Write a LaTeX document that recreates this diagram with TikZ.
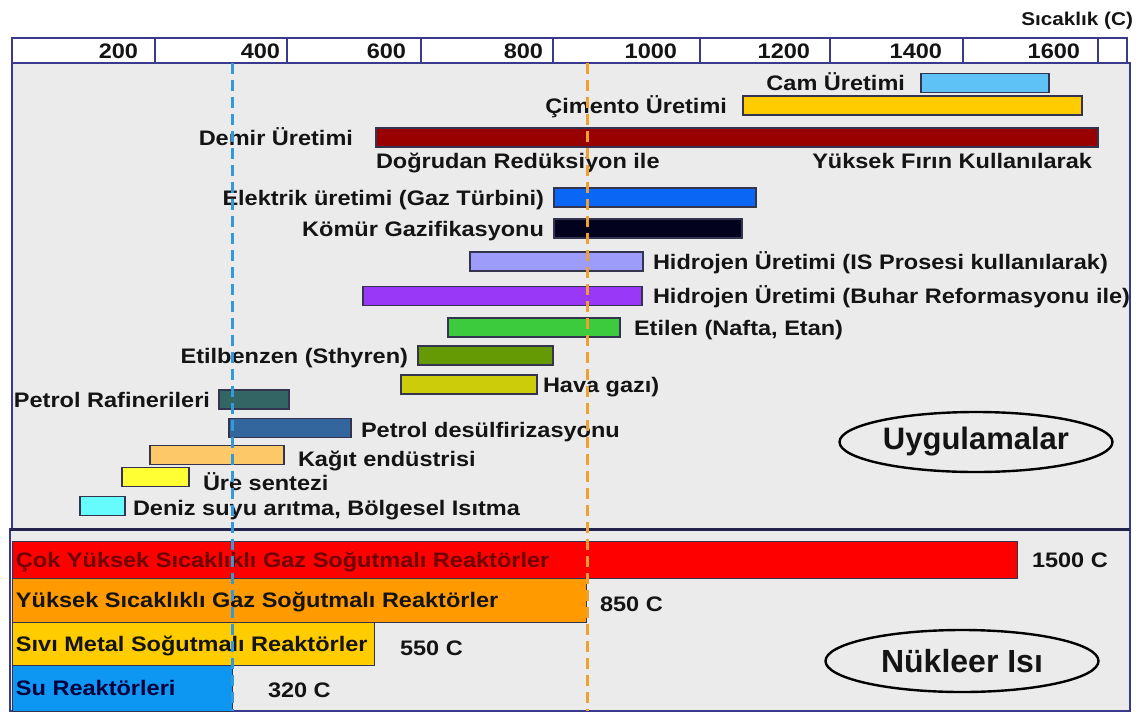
\documentclass[tikz,border=0pt]{standalone}
\usepackage{fontspec}
\setmainfont[FakeStretch=1.12]{Liberation Sans}
\newfontfamily\ovalfont{Liberation Sans}
\usetikzlibrary{positioning,shapes.geometric}
\definecolor{ink}{HTML}{141414}
\definecolor{frame}{HTML}{3A3A8C}
\definecolor{divider}{HTML}{24244C}
\definecolor{panel}{HTML}{EBEBEB}
\definecolor{barline}{HTML}{34344F}
\definecolor{camblue}{HTML}{5EC2F6}
\definecolor{cement}{HTML}{FFCC00}
\definecolor{iron}{HTML}{990000}
\definecolor{turbine}{HTML}{0A66F5}
\definecolor{coal}{HTML}{02021E}
\definecolor{hydrois}{HTML}{9D9CFA}
\definecolor{hydrosteam}{HTML}{9A38F7}
\definecolor{ethylene}{HTML}{3CCB3C}
\definecolor{styrene}{HTML}{669A05}
\definecolor{gasyellow}{HTML}{CDCC0A}
\definecolor{refinery}{HTML}{336565}
\definecolor{desulf}{HTML}{33669C}
\definecolor{paper}{HTML}{FDC867}
\definecolor{urea}{HTML}{FFFF33}
\definecolor{seawater}{HTML}{66FBFD}
\definecolor{hotred}{HTML}{FF0000}
\definecolor{amber}{HTML}{FF9A00}
\definecolor{gold}{HTML}{FFCC00}
\definecolor{water}{HTML}{0D96F2}
\definecolor{maroon}{HTML}{6E0000}
\definecolor{navytext}{HTML}{00003C}
\definecolor{dashblue}{HTML}{3399DD}
\definecolor{dashorange}{HTML}{F0A030}
\tikzset{every node/.style={font=\bfseries\fontsize{21}{25}\selectfont,inner sep=0pt,outer sep=0pt,text=ink},
  lbl/.style={text height=17pt,text depth=2pt},
  appbar/.style={draw=barline,line width=1.3pt,minimum height=19pt},
  reactor/.style={draw=barline,line width=1pt,anchor=north west},
  frameline/.style={draw=frame,line width=1.5pt},
  guide/.style={line width=3pt,dash pattern=on 11pt off 6pt},
  oval/.style={ellipse,draw=black,line width=2.4pt,minimum width=273pt,minimum height=60pt,
    font=\ovalfont\bfseries\fontsize{31}{36}\selectfont}}
\begin{document}
\begin{tikzpicture}[x=1pt,y=-1pt]
\useasboundingbox(0,0)rectangle(1138,713);
% axis strip
\node[anchor=east,lbl,font=\bfseries\fontsize{18.5}{22}\selectfont](unit)at(1133,18){Sıcaklık (C)};
\draw[frameline,fill=white](12,38)rectangle(1127,63);
\foreach \s in {155,287,421,553,700,830,963,1098}{\draw[frameline](\s,38)--(\s,63);}
\foreach \v/\xr in {200/138,400/280,600/406,800/543,1000/677,1200/810,1400/942,1600/1080}{\node[lbl,anchor=east](t\v)at(\xr,51){\v};}
% panels
\draw[frameline,fill=panel](12,63)rectangle(1130,529);
\draw[frameline,fill=panel](10,529)rectangle(1130,711);
% applications, label on the left
\foreach \n/\xa/\xb/\y/\c/\g/\t in {cam/921/1049/83/camblue/16/{Cam Üretimi},
  cimento/743/1082/105.5/cement/16/{Çimento Üretimi},demir/376/1098/137.5/iron/23/{Demir Üretimi},
  elektrik/554/756/197.5/turbine/10/{Elektrik üretimi (Gaz Türbini)},komur/554/742/228.5/coal/10/{Kömür Gazifikasyonu},
  etilbenzen/418/553/355.5/styrene/10/{Etilbenzen (Sthyren)},rafineri/219/289/399.5/refinery/9/{Petrol Rafinerileri}}{
  \node[appbar,fill=\c,minimum width={(\xb-\xa)*1pt}](\n)at({(\xa+\xb)/2},\y){};
  \node[lbl,left=\g pt of \n](t\n){\t};}
% applications, label on the right
\foreach \n/\xa/\xb/\y/\c/\g/\dy/\t in {hidrojenis/470/643/261.5/hydrois/10/0/{Hidrojen Üretimi (IS Prosesi kullanılarak)},
  hidrojenbuhar/363/642/296/hydrosteam/11/0/{Hidrojen Üretimi (Buhar Reformasyonu ile)},
  etilen/448/620/327.5/ethylene/14/0/{Etilen (Nafta, Etan)},hava/401/537/384.5/gasyellow/6/0/{Hava gazı)},
  desulf/229/351/428/desulf/10/2/{Petrol desülfirizasyonu},kagit/150/284/455/paper/14/4/{Kağıt endüstrisi},
  ure/122/189/477/urea/14/6/{Üre sentezi},deniz/80/125/506/seawater/8/2/{Deniz suyu arıtma, Bölgesel Isıtma}}{
  \node[appbar,fill=\c,minimum width={(\xb-\xa)*1pt}](\n)at({(\xa+\xb)/2},\y){};
  \node[lbl,right=\g pt of \n,yshift={-\dy*1pt}](t\n){\t};}
\node[lbl,below right=4pt and 0pt of demir.south west](direct){Doğrudan Redüksiyon ile};
\node[lbl,below left=4pt and 6pt of demir.south east](blast){Yüksek Fırın Kullanılarak};
\node[oval](apps)at(976,442){Uygulamalar};
% nuclear heat sources
\draw[line width=3pt,draw=divider](10,529)--(1130,529);
\foreach \n/\w/\ya/\h/\c/\tc/\g/\dy/\t/\v in {vhtr/1005/541/37/hotred/maroon/15/0/{Çok Yüksek Sıcaklıklı Gaz Soğutmalı Reaktörler}/1500 C,
  htgr/574/578/44/amber/ink/14/4/{Yüksek Sıcaklıklı Gaz Soğutmalı Reaktörler}/850 C,
  lmr/362/622/43/gold/ink/26/4/{Sıvı Metal Soğutmalı Reaktörler}/550 C,
  lwr/220/665/46/water/navytext/36/2/{Su Reaktörleri}/320 C}{
  \node[reactor,fill=\c,minimum width={\w*1pt},minimum height={\h*1pt}](\n)at(12,\ya){};
  \node[lbl,right=4pt of \n.west,text=\tc](t\n){\t};
  \node[lbl,right=\g pt of \n,yshift={-\dy*1pt}](v\n){\v};}
\node[oval,minimum height=62pt,font=\ovalfont\bfseries\fontsize{32}{36}\selectfont](nuclear)at(962,661){Nükleer Isı};
% temperature guides
\coordinate(lwrtop)at(232,63);\coordinate(lwrend)at(232,711);
\coordinate(htgrtop)at(587,63);\coordinate(htgrend)at(587,711);
\draw[guide,draw=dashblue](lwrtop)--(lwrend);
\draw[guide,draw=dashorange](htgrtop)--(htgrend);
\end{tikzpicture}
\end{document}
